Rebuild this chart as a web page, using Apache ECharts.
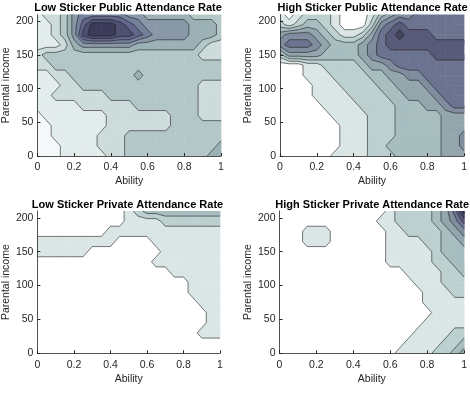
<!DOCTYPE html>
<html>
<head>
<meta charset="utf-8">
<script src="https://cdn.jsdelivr.net/npm/echarts@6/dist/echarts.min.js"></script>
<style>
  html, body { margin: 0; padding: 0; background: #fff; }
  #chart { width: 470px; height: 399px; }
</style>
</head>
<body>
<div id="chart"></div>
<script>
var xTicks = [0, 0.2, 0.4, 0.6, 0.8, 1];
var yTicks = [0, 50, 100, 150, 200];
var titles = [
  'Low Sticker Public Attendance Rate',
  'High Sticker Public Attendance Rate',
  'Low Sticker Private Attendance Rate',
  'High Sticker Private Attendance Rate'
];

// contour band read at each grid node: rows go from income 210 (top) down to 0
// in steps of 15, columns from ability 0 to 1 in steps of 0.05
var lowPublic = [
  '122356666655444443333',
  '112357999876555554443',
  '112358999887655554443',
  '111245555554444444322',
  '233333333333333333222',
  '223333333333333333333',
  '112233333334333333333',
  '111223333333333333222',
  '112222223333333333222',
  '111112222223333333222',
  '011111112222222333222',
  '001111112222222333333',
  '001111122233333333333',
  '000111122233333333334',
  '000111112233333333344'
];
var highPublic = [
  '101222100013455666666',
  '212332100025676666666',
  '455543211246787776666',
  '566654333456777777777',
  '244443333456666667777',
  '000112222344566666666',
  '000111222233445566666',
  '000011122223344456666',
  '000011112222334445666',
  '000001111222233344566',
  '000000111122233333444',
  '000000011122233333444',
  '000000011122233333445',
  '000000011122333333445',
  '000000111122233333444'
];
var lowPrivate = [
  '000000000012333333333',
  '000000000011112222222',
  '000000001111111111111',
  '111111111000011111111',
  '111111000000001111111',
  '000000000000011111111',
  '000000000000000111111',
  '000000000000000001111',
  '000000000000000001111',
  '000000000000000000111',
  '000000000000000000011',
  '000000000000000000011',
  '000000000000000000111',
  '000000000000000000000',
  '000000000000000000000'
];
var highPrivate = [
  '000000000000122223469',
  '000000000001122223457',
  '000111000000112222345',
  '000111000000111122334',
  '000000000000111112333',
  '000000000000111112233',
  '000000000000001111223',
  '000000000000000111222',
  '000000000000000011122',
  '000000000000000011111',
  '000000000000000001111',
  '000000000000000011111',
  '000000000000000111122',
  '000000000000001111223',
  '000000000000011112234'
];

var xStep = 0.05, yStep = 15, yMax = 210;

var bone = ['#ffffff', '#dae6e5', '#bdd0d0', '#a7bdbf', '#93a6ad', '#7f8d9e', '#6b7390', '#595b7b', '#45455f', '#2f2f47'];
var boneLow = ['#f4f8f8', '#e3ecec', '#cddbdb', '#b3c7c8', '#9cb1b6', '#8898a8', '#74809a', '#62668a', '#4f5072', '#3b3b5a'];

var panels = [
  {rows: lowPublic, colors: boneLow, left: 35, top: 14.5, width: 186, height: 141.5, gap: 24},
  {rows: highPublic, colors: bone, left: 280, top: 14.5, width: 185, height: 141.5, gap: 26},
  {rows: lowPrivate, colors: bone, left: 35, top: 211, width: 185, height: 142.3, gap: 24},
  {rows: highPrivate, colors: bone, left: 279.5, top: 211, width: 185.5, height: 142.3, gap: 26}
];

// one item per grid square: its corners and the four node values
function squares(rows) {
  var out = [];
  for (var r = 0; r + 1 < rows.length; r++) {
    for (var c = 0; c + 1 < rows[r].length; c++) {
      out.push([c * xStep, yMax - r * yStep, (c + 1) * xStep, yMax - (r + 1) * yStep,
        +rows[r][c], +rows[r][c + 1], +rows[r + 1][c + 1], +rows[r + 1][c]]);
    }
  }
  return out;
}

function fill(points, color, z) {
  return {type: 'polygon', z2: z, shape: {points: points},
    style: {fill: color, stroke: color, lineWidth: 0.6}};
}

// filled contours by marching squares, bands split at k - 0.5
function contourRenderer(colors) {
  return function (params, api) {
    var x0 = api.value(0), y0 = api.value(1), x1 = api.value(2), y1 = api.value(3);
    var corners = [api.coord([x0, y0]), api.coord([x1, y0]), api.coord([x1, y1]), api.coord([x0, y1])];
    var v = [api.value(4), api.value(5), api.value(6), api.value(7)];
    var lo = Math.min(v[0], v[1], v[2], v[3]);
    var hi = Math.max(v[0], v[1], v[2], v[3]);
    var kids = [fill(corners, colors[lo], lo)];
    for (var k = lo + 1; k <= hi; k++) {
      var t = k - 0.5, poly = [], cuts = [];
      for (var n = 0; n < 4; n++) {
        var m = (n + 1) % 4, inN = v[n] > t, inM = v[m] > t;
        if (inN) poly.push(corners[n]);
        if (inN !== inM) {
          var f = (t - v[n]) / (v[m] - v[n]);
          var p = [corners[n][0] + f * (corners[m][0] - corners[n][0]),
                   corners[n][1] + f * (corners[m][1] - corners[n][1])];
          poly.push(p);
          cuts.push({p: p, out: inN});
        }
      }
      kids.push(fill(poly, colors[k], k));
      var s = 0;
      while (!cuts[s].out) s++;
      for (var j = 0; j < cuts.length; j += 2) {
        var a = cuts[(s + j) % cuts.length].p, b = cuts[(s + j + 1) % cuts.length].p;
        kids.push({type: 'line', z2: 20, shape: {x1: a[0], y1: a[1], x2: b[0], y2: b[1]},
          style: {stroke: '#262626', lineWidth: 0.6}});
      }
    }
    return {type: 'group', children: kids};
  };
}

var font = '"Liberation Sans", Arial, sans-serif';
var axisColor = '#262626';

var grid = [], xAxis = [], yAxis = [], series = [], title = [];
panels.forEach(function (p, i) {
  grid.push({left: p.left, top: p.top, width: p.width, height: p.height});
  title.push({
    text: titles[i], left: p.left + p.width / 2, top: p.top - 12, textAlign: 'center', padding: 0,
    textStyle: {fontSize: 11, fontWeight: 'bold', color: '#000', fontFamily: font}
  });
  xAxis.push({
    type: 'value', gridIndex: i, min: 0, max: 1, interval: 0.2, z: 5,
    name: 'Ability', nameLocation: 'middle', nameGap: 20,
    nameTextStyle: {fontSize: 10.5, color: axisColor, fontFamily: font},
    axisLine: {lineStyle: {color: axisColor, width: 0.8}},
    axisTick: {inside: true, length: 3, lineStyle: {color: axisColor}, customValues: xTicks},
    axisLabel: {fontSize: 10.5, color: axisColor, fontFamily: font, margin: 6, customValues: xTicks},
    splitLine: {show: false}
  });
  yAxis.push({
    type: 'value', gridIndex: i, min: 0, max: yMax, interval: 50, z: 5,
    name: 'Parental income', nameLocation: 'middle', nameGap: p.gap, nameRotate: 90,
    nameTextStyle: {fontSize: 10.5, color: axisColor, fontFamily: font},
    axisLine: {show: true, lineStyle: {color: axisColor, width: 0.8}},
    axisTick: {show: true, inside: true, length: 3, lineStyle: {color: axisColor}, customValues: yTicks},
    axisLabel: {fontSize: 10.5, color: axisColor, fontFamily: font, margin: 4, customValues: yTicks},
    splitLine: {show: false}
  });
  series.push({
    type: 'custom', xAxisIndex: i, yAxisIndex: i, clip: true,
    renderItem: contourRenderer(p.colors),
    encode: {x: [0, 2], y: [1, 3]},
    data: squares(p.rows)
  });
});

var chart = echarts.init(document.getElementById('chart'));
chart.setOption({
  animation: false,
  title: title,
  grid: grid,
  xAxis: xAxis,
  yAxis: yAxis,
  series: series
});
</script>
</body>
</html>
